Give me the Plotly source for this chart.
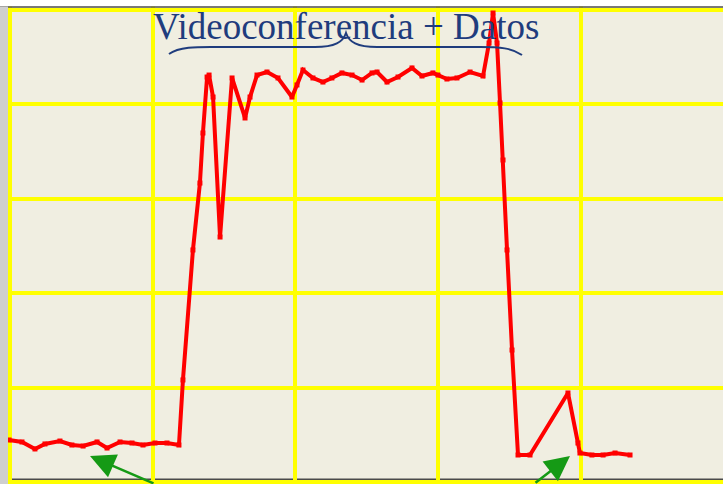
import plotly.graph_objects as go

# ---- data (time units on x, load on y) ----
time_pts = [-0.007, 0.084, 0.175, 0.245, 0.350, 0.434, 0.512, 0.610, 0.680, 0.771,
            0.855, 0.932, 1.016, 1.100, 1.184, 1.212, 1.282, 1.331, 1.352, 1.381,
            1.395, 1.423, 1.472, 1.556, 1.647, 1.682, 1.731, 1.801, 1.878, 1.976,
            2.011, 2.053, 2.123, 2.193, 2.256, 2.326, 2.397, 2.467, 2.537, 2.572,
            2.642, 2.719, 2.817, 2.887, 2.964, 2.999, 3.062, 3.132, 3.224, 3.315,
            3.357, 3.385, 3.413, 3.434, 3.455, 3.483, 3.518, 3.560, 3.644, 3.910,
            3.980, 3.994, 4.078, 4.156, 4.240, 4.345]
load_vals = [0.445, 0.424, 0.350, 0.403, 0.434, 0.392, 0.381, 0.424, 0.360, 0.424,
             0.413, 0.392, 0.413, 0.413, 0.392, 1.081, 2.458, 3.167, 3.697, 4.290,
             4.311, 4.078, 2.595, 4.280, 3.856, 4.078, 4.311, 4.343, 4.280, 4.078,
             4.206, 4.364, 4.280, 4.237, 4.280, 4.333, 4.311, 4.258, 4.333, 4.343,
             4.237, 4.290, 4.386, 4.301, 4.333, 4.311, 4.269, 4.280, 4.343, 4.301,
             4.650, 4.968, 4.650, 4.015, 3.411, 2.458, 1.398, 0.286, 0.286, 0.943,
             0.413, 0.307, 0.286, 0.286, 0.307, 0.286]

title_text = "Videoconferencia + Datos"

W, H = 723, 484
X0PX, XSTEP = 10.0, 142.7
Y0PX, YSTEP = 482.0, 94.4


def px(x):
    return x / W


def py(y):
    return 1 - y / H


fig = go.Figure()
fig.add_trace(go.Scatter(
    x=time_pts, y=load_vals, mode="lines+markers",
    line=dict(color="#FF0000", width=4),
    marker=dict(color="#FF0000", size=5, symbol="square"),
    hoverinfo="skip", showlegend=False,
))

shapes = []
# top white strip and dark line
shapes.append(dict(type="rect", xref="paper", yref="paper", x0=0, x1=1, y0=py(6.5), y1=1,
                   fillcolor="white", line=dict(width=0), layer="above"))
shapes.append(dict(type="line", xref="paper", yref="paper", x0=px(0), x1=1, y0=py(7), y1=py(7),
                   line=dict(color="#505050", width=1.5), layer="above"))
# left gray strip
shapes.append(dict(type="rect", xref="paper", yref="paper", x0=0, x1=px(8), y0=0, y1=py(6.5),
                   fillcolor="#CFCFCF", line=dict(width=0), layer="above"))
# bottom dark line
shapes.append(dict(type="line", xref="paper", yref="paper", x0=px(11), x1=1, y0=py(479.5), y1=py(479.5),
                   line=dict(color="#4A4A4A", width=2), layer="below"))

# curly brace under title
brace = [(169, 54), (180, 46), (200, 47), (220, 47), (315, 47), (335, 47), (343, 42), (346, 33),
         (349, 42), (357, 47), (377, 47), (480, 47), (500, 47), (512, 48), (522, 55)]
b = [f"{px(a):.5f},{py(c):.5f}" for a, c in brace]
path = (f"M {b[0]} C {b[1]} {b[2]} {b[3]} L {b[4]} C {b[5]} {b[6]} {b[7]} "
        f"C {b[8]} {b[9]} {b[10]} L {b[11]} C {b[12]} {b[13]} {b[14]}")
shapes.append(dict(type="path", xref="paper", yref="paper", path=path,
                   line=dict(color="#1F3C7D", width=2), layer="above"))

annotations = [
    dict(xref="paper", yref="paper", x=px(346), y=py(27), xanchor="center", yanchor="middle",
         text=title_text, showarrow=False,
         font=dict(family="Liberation Serif", size=37, color="#1F3C7D")),
    dict(xref="paper", yref="paper", x=px(90), y=py(456), ax=155 - 90, ay=492 - 456,
         text="", showarrow=True, arrowhead=2, arrowsize=2, arrowwidth=2.5,
         arrowcolor="#159A15", axref="pixel", ayref="pixel"),
    dict(xref="paper", yref="paper", x=px(570), y=py(456), ax=534 - 570, ay=492 - 456,
         text="", showarrow=True, arrowhead=2, arrowsize=2, arrowwidth=2.5,
         arrowcolor="#159A15", axref="pixel", ayref="pixel"),
]

fig.update_layout(
    width=W, height=H, margin=dict(l=0, r=0, t=0, b=0),
    paper_bgcolor="white", plot_bgcolor="#F0EEE1",
    shapes=shapes, annotations=annotations,
    xaxis=dict(range=[-X0PX / XSTEP, (W - X0PX) / XSTEP], tick0=0, dtick=1,
               showgrid=True, gridcolor="#FFFF00", gridwidth=4, zeroline=False,
               showticklabels=False, ticks="", showline=False, fixedrange=True),
    yaxis=dict(range=[-(H - Y0PX) / YSTEP, Y0PX / YSTEP], tick0=0, dtick=1,
               showgrid=True, gridcolor="#FFFF00", gridwidth=4, zeroline=False,
               showticklabels=False, ticks="", showline=False, fixedrange=True),
)

fig.write_html("out.html", config={"displayModeBar": False},
               post_script="document.body.style.margin='0';document.body.style.overflow='hidden';")
